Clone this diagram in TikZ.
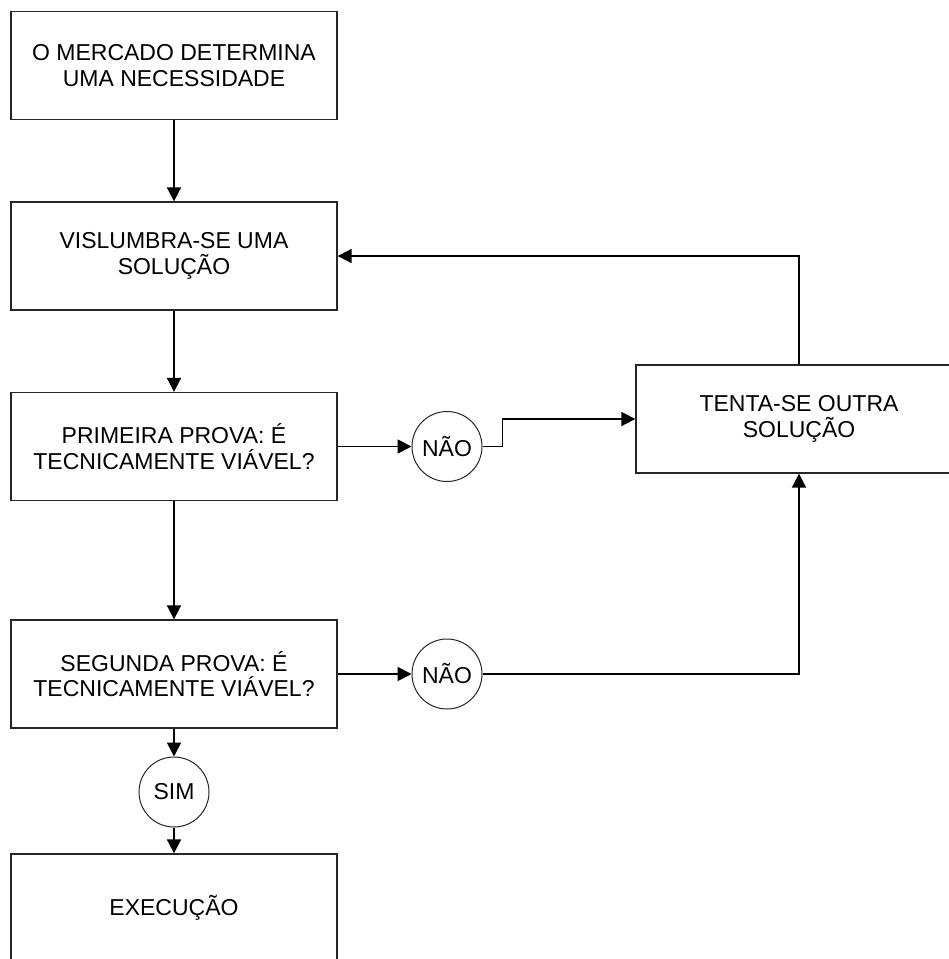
\documentclass[tikz,border=0pt]{standalone}
\usepackage{fontspec}
\setmainfont{Liberation Sans}
\usetikzlibrary{arrows.meta}
\begin{document}
\begin{tikzpicture}[x=1pt,y=-1pt,
  every node/.style={font=\fontsize{23}{25.5}\selectfont, text=black},
  stepbox/.style={draw=black!85, line width=1.3pt, rectangle, minimum width=326pt, minimum height=108pt, align=center, inner sep=0pt},
  answer/.style={draw=black!85, line width=1pt, circle, minimum size=70pt, inner sep=0pt},
  conn/.style={line width=1.8pt, -{Triangle[length=14pt,width=14pt]}},
  plain/.style={line width=1.8pt}
]
\useasboundingbox (0,0) rectangle (949,959);
\clip (0,0) rectangle (949,959);
\fill[white] (0,0) rectangle (949,959);

\node[stepbox] (b1) at (174,65.5) {O MERCADO DETERMINA\\UMA NECESSIDADE};
\node[stepbox] (b2) at (174,256) {VISLUMBRA-SE UMA\\SOLUÇÃO};
\node[stepbox] (b3) at (174,446.5) {PRIMEIRA PROVA: É\\TECNICAMENTE VIÁVEL?};
\node[stepbox] (b4) at (174,674) {SEGUNDA PROVA: É\\TECNICAMENTE VIÁVEL?};
\node[stepbox] (b5) at (174,908) {EXECUÇÃO};
\node[stepbox] (b6) at (799,419) {TENTA-SE OUTRA\\SOLUÇÃO};

\node[answer] (n1) at (447,446.5) {NÃO};
\node[answer] (n2) at (447,674) {NÃO};
\node[answer] (sim) at (174,792) {SIM};

\draw[conn] (b1.south) -- (b2.north);
\draw[conn] (b2.south) -- (b3.north);
\draw[conn] (b3.south) -- (b4.north);
\draw[conn] (b4.south) -- (sim.north);
\draw[conn] (sim.south) -- (b5.north);
\draw[conn] (b3.east) -- (n1.west);
\draw[conn] (b4.east) -- (n2.west);
\draw[conn] (n1.east) -- ++(20,0) |- (b6.west);
\draw[conn] (n2.east) -| (b6.south);
\draw[conn] (b6.north) |- (b2.east);
\end{tikzpicture}
\end{document}
